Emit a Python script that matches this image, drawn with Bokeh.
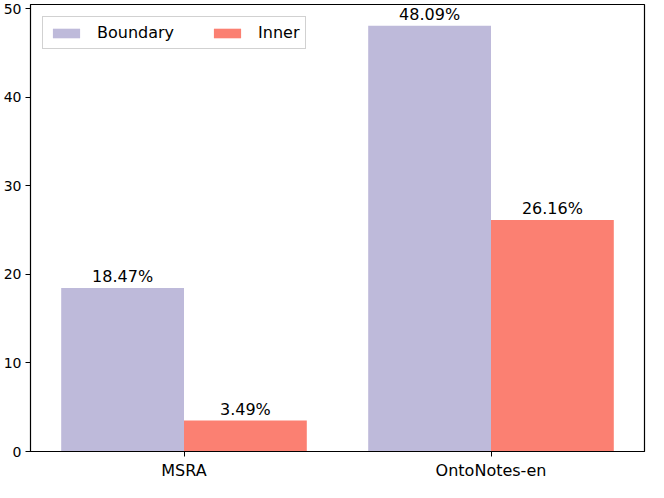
from bokeh.plotting import figure
from bokeh.models import ColumnDataSource, FactorRange, Range1d, Legend, LegendItem, FixedTicker
from bokeh.transform import dodge
from bokeh.core.properties import value
from bokeh.embed import file_html
from bokeh.resources import INLINE

datasets = ["MSRA", "OntoNotes-en"]
boundary = [18.47, 48.09]
inner = [3.49, 26.16]
series_names = ["Boundary", "Inner"]
y_ticks = [0, 10, 20, 30, 40, 50]

FONT = "DejaVu Sans"

src = ColumnDataSource(dict(
    x=datasets,
    boundary=boundary,
    inner=inner,
    bl=["%.2f%%" % v for v in boundary],
    il=["%.2f%%" % v for v in inner],
))

p = figure(x_range=FactorRange(factors=datasets, range_padding=0),
           y_range=Range1d(0, 50.5),
           width=648, height=482,
           output_backend="svg", toolbar_location=None,
           min_border_left=24, min_border_right=4, min_border_top=4, min_border_bottom=30)

r1 = p.vbar(x=dodge("x", -0.2, range=p.x_range), top="boundary", width=0.4,
            source=src, fill_color="#bebada", line_color=None)
r2 = p.vbar(x=dodge("x", 0.2, range=p.x_range), top="inner", width=0.4,
            source=src, fill_color="#fb8072", line_color=None)

p.text(x=dodge("x", -0.2, range=p.x_range), y="boundary", text="bl", source=src,
       text_align="center", text_baseline="bottom", y_offset=-2,
       text_font=value(FONT), text_font_size="16px", text_color="black")
p.text(x=dodge("x", 0.2, range=p.x_range), y="inner", text="il", source=src,
       text_align="center", text_baseline="bottom", y_offset=-2,
       text_font=value(FONT), text_font_size="16px", text_color="black")

p.xgrid.visible = False
p.ygrid.visible = False
p.outline_line_color = "black"
p.outline_line_width = 1.2

p.yaxis.ticker = FixedTicker(ticks=y_ticks)
p.yaxis.minor_tick_line_color = None
for ax in (p.xaxis[0], p.yaxis[0]):
    ax.axis_line_color = "black"
    ax.major_tick_line_color = "black"
    ax.major_tick_out = 5
    ax.major_tick_in = 0
    ax.major_label_text_font = FONT
    ax.major_label_text_color = "black"
    ax.major_label_standoff = 4
p.yaxis.major_label_text_font_size = "14px"
p.xaxis.major_label_text_font_size = "16px"

legend = Legend(items=[LegendItem(label=series_names[0], renderers=[r1]),
                       LegendItem(label=series_names[1], renderers=[r2])],
                location="top_left", orientation="horizontal",
                label_text_font=FONT, label_text_font_size="16px",
                label_text_color="black",
                glyph_width=34, glyph_height=12, spacing=36,
                border_line_color="#cccccc", border_line_alpha=0.9,
                background_fill_alpha=0.8, margin=12, padding=6,
                label_standoff=14)
p.add_layout(legend)

open("out.html", "w").write(file_html(p, INLINE))
